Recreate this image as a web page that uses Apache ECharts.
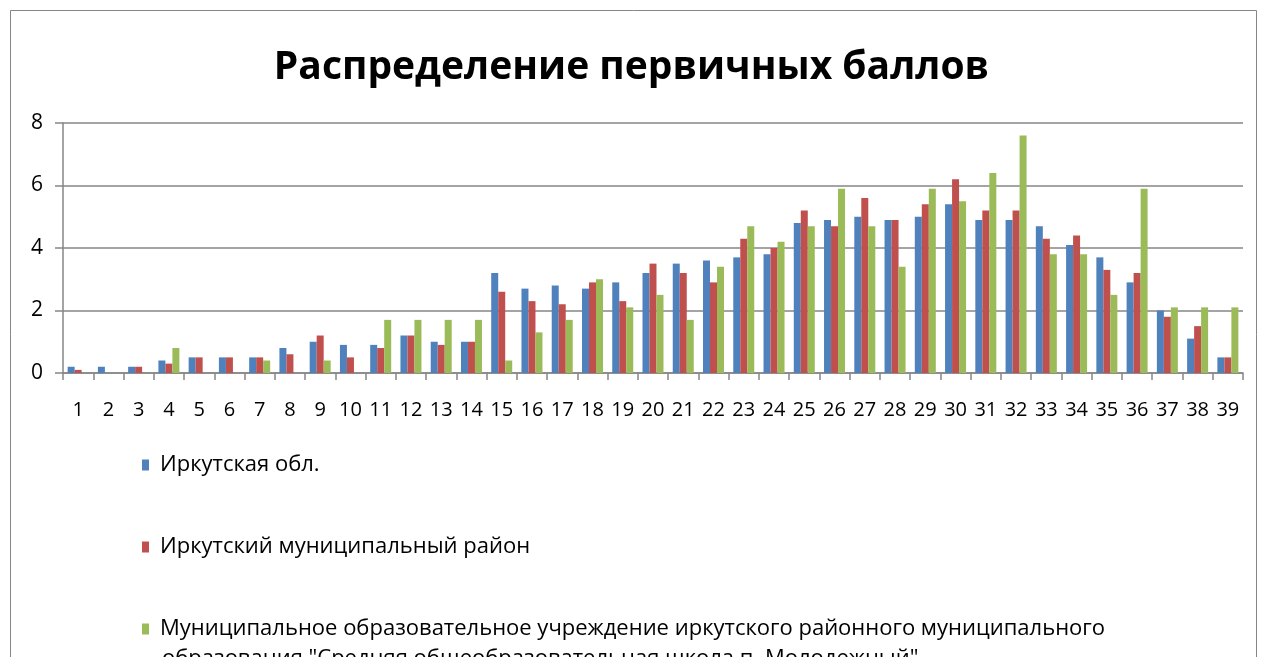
<!DOCTYPE html>
<html><head><meta charset="utf-8">
<script src="https://cdn.jsdelivr.net/npm/echarts@6/dist/echarts.min.js"></script>
<style>html,body{margin:0;padding:0;background:#fff}#c{width:1263px;height:657px}</style>
</head><body><div id="c"></div>
<script>
const categories = Array.from({length:39},(_,i)=>String(i+1));
const seriesNames = ['Иркутская обл.','Иркутский муниципальный район','Муниципальное образовательное учреждение иркутского районного муниципального образования "Средняя общеобразовательная школа п. Молодежный"'];
const legendLines = [['Иркутская обл.'],['Иркутский муниципальный район'],['Муниципальное образовательное учреждение иркутского районного муниципального','образования "Средняя общеобразовательная школа п. Молодежный"']];
const oblast = [0.2,0.2,0.2,0.4,0.5,0.5,0.5,0.8,1.0,0.9,0.9,1.2,1.0,1.0,3.2,2.7,2.8,2.7,2.9,3.2,3.5,3.6,3.7,3.8,4.8,4.9,5.0,4.9,5.0,5.4,4.9,4.9,4.7,4.1,3.7,2.9,2.0,1.1,0.5];
const rayon = [0.1,0,0.2,0.3,0.5,0.5,0.5,0.6,1.2,0.5,0.8,1.2,0.9,1.0,2.6,2.3,2.2,2.9,2.3,3.5,3.2,2.9,4.3,4.0,5.2,4.7,5.6,4.9,5.4,6.2,5.2,5.2,4.3,4.4,3.3,3.2,1.8,1.5,0.5];
const school = [0,0,0,0.8,0,0,0.4,0,0.4,0,1.7,1.7,1.7,1.7,0.4,1.3,1.7,3.0,2.1,2.5,1.7,3.4,4.7,4.2,4.7,5.9,4.7,3.4,5.9,5.5,6.4,7.6,3.8,3.8,2.5,5.9,2.1,2.1,2.1];
const colors = ['#4F81BD','#C0504D','#9BBB59'];
const font = '"Open Sans", "Noto Sans", sans-serif';
const chart = echarts.init(document.getElementById('c'));
const mk = (name,data,i)=>({name,type:'bar',data,barWidth:7,barGap:'0%',itemStyle:{color:colors[i]}});
const legendTops = [449, 531, 613];
chart.setOption({
  animation:false,
  graphic:[
    {type:'rect',shape:{x:10.5,y:10.5,width:1246,height:700},style:{fill:'none',stroke:'#868686',lineWidth:1}},
    {type:'text',left:162,top:legendTops[2]+35,style:{text:legendLines[2][1],font:'22px "Open Sans", sans-serif',fill:'#000'}}
  ],
  title:{text:'Распределение первичных баллов',left:'center',top:43,textStyle:{fontFamily:font,fontWeight:'bold',fontSize:39,color:'#000'}},
  grid:{left:63,right:20,top:123,bottom:284,containLabel:false},
  legend:seriesNames.map((n,i)=>({orient:'vertical',left:137,top:legendTops[i],itemWidth:7,itemHeight:11,icon:'rect',
    formatter:()=>legendLines[i][0],
    textStyle:{fontFamily:font,fontSize:22,color:'#000',padding:[0,0,0,6]},
    data:[n]})),
  xAxis:{type:'category',data:categories,
    axisLine:{lineStyle:{color:'#868686',width:1.5}},
    axisTick:{show:true,length:7,lineStyle:{color:'#868686',width:1.5}},
    axisLabel:{color:'#000',fontFamily:font,fontSize:20,margin:27,interval:0}},
  yAxis:{type:'value',min:0,max:8,interval:2,
    axisLine:{show:true,lineStyle:{color:'#868686',width:1.5}},
    axisTick:{show:true,length:8,lineStyle:{color:'#868686',width:1.5}},
    splitLine:{lineStyle:{color:'#868686',width:1.5}},
    axisLabel:{color:'#000',fontFamily:font,fontSize:21,margin:20}},
  series:[mk(seriesNames[0],oblast,0),mk(seriesNames[1],rayon,1),mk(seriesNames[2],school,2)]
});
</script></body></html>
